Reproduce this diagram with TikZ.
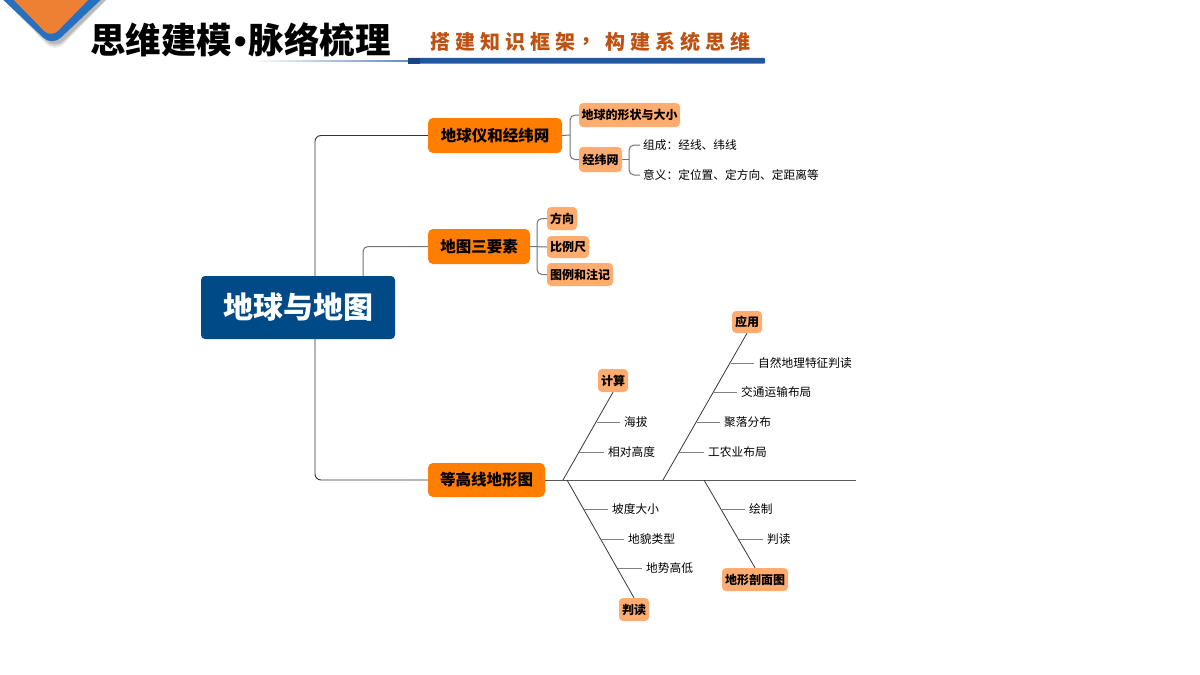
\documentclass[tikz,border=0pt]{standalone}
\usepackage{fontspec}
\setmainfont{Noto Sans CJK SC}
\newfontfamily\latinb{Liberation Sans}
\usetikzlibrary{calc}
\definecolor{lvone}{RGB}{255,125,0}
\definecolor{lvtwo}{RGB}{255,172,112}
\definecolor{central}{RGB}{0,74,135}
\definecolor{chevorange}{RGB}{237,128,50}
\definecolor{chevblue}{RGB}{38,112,192}
\definecolor{barblue}{RGB}{30,88,160}
\definecolor{subcol}{RGB}{190,82,18}
\pgfdeclarelayer{back}
\pgfdeclarelayer{lines}
\pgfsetlayers{back,lines,main}
\tikzset{
  lone/.style={fill=lvone, rounded corners=5pt, inner sep=0pt, font=\fontsize{15.5}{18}\selectfont\bfseries},
  ltwo/.style={fill=lvtwo, rounded corners=4pt, inner sep=0pt, font=\fontsize{12}{14}\selectfont\bfseries},
  leaf/.style={inner sep=0pt, anchor=west, font=\fontsize{11.7}{14}\selectfont},
  conn/.style={draw=black!80, line width=0.9pt, rounded corners=6pt},
  gconn/.style={draw=black!55, line width=1pt, rounded corners=5pt},
  bone/.style={draw=black!78, line width=0.8pt},
  spine/.style={draw=black!65, line width=1pt},
  tickline/.style={draw=black!50, line width=1pt},
  subch/.style={inner sep=0pt, text=subcol, font=\fontsize{20}{23}\selectfont\bfseries}
}
\begin{document}
\begin{tikzpicture}[x=1pt,y=-1pt]
\path[use as bounding box] (0,0) rectangle (1200,675);
\begin{pgfonlayer}{back}
\fill[white] (0,0) rectangle (1200,675);
\end{pgfonlayer}
\clip (0,0) rectangle (1200,675);

% top-left chevron with shadow
\foreach \o/\a in {8/0.08,6/0.1,4/0.12}{
  \fill[black, opacity=\a, rounded corners=12pt] (-6,-10) -- (55,45+\o) -- (116,-10) -- cycle;
}
\fill[chevblue, rounded corners=12pt] (-5,-8) -- (52,46) -- (109,-8) -- cycle;
\fill[chevorange, rounded corners=10pt] (6,-8) -- (51,38) -- (96,-8) -- cycle;

% title
\node[anchor=west, inner sep=0pt, font=\fontsize{35.5}{40}\selectfont\bfseries] (title) at (90,40) {思维建模{\latinb\bfseries\kern2pt•\kern2pt}脉络梳理};

% subtitle
\foreach \ch [count=\i from 0] in {搭,建,知,识,框,架,，,构,建,系,统,思,维}{
  \node[subch] (s\i) at (440.5+25*\i,42) {\ch};
}
\shade[left color=white, right color=barblue!70] (250,60.3) rectangle (410,61.8);
\fill[barblue, rounded corners=1pt] (408,57.8) rectangle (765,63.5);
\fill[barblue!80!black] (408,57.8) rectangle (420,63.5);

% coordinates
\coordinate (jmain) at (315,300);
\coordinate (jsec) at (363,300);
\coordinate (ja) at (570,135);
\coordinate (jb) at (537,246.5);
\coordinate (jg) at (629,159.5);
\coordinate (spineend) at (856,480);
\coordinate (f1) at (563,480);
\coordinate (f2) at (663,480);
\coordinate (f3) at (567,480);
\coordinate (f4) at (704,480);

% main nodes
\node[fill=central, rounded corners=4pt, minimum width=194pt, minimum height=63pt, inner sep=0pt, text=white, font=\fontsize{30}{34}\selectfont\bfseries] (c) at (298,307.5) {地球与地图};
\node[lone, minimum width=134pt, minimum height=35pt] (n1) at (495,135.5) {地球仪和经纬网};
\node[lone, minimum width=102pt, minimum height=35pt] (n2) at (479,246.5) {地图三要素};
\node[lone, minimum width=117pt, minimum height=34pt] (n3) at (486.5,480) {等高线地形图};

\node[ltwo, minimum width=101pt, minimum height=24pt] (a1) at (629.5,115) {地球的形状与大小};
\node[ltwo, minimum width=43pt, minimum height=25pt] (a2) at (600.5,159.5) {经纬网};
\node[leaf] (g1) at (643,145) {组成：经线、纬线};
\node[leaf] (g2) at (643,175) {意义：定位置、定方向、定距离等};

\node[ltwo, minimum width=30pt, minimum height=23pt] (b1) at (562,218.5) {方向};
\node[ltwo, minimum width=42pt, minimum height=22pt] (b2) at (568,247) {比例尺};
\node[ltwo, minimum width=66pt, minimum height=23pt] (b3) at (580,274.5) {图例和注记};

\node[ltwo, minimum width=30pt, minimum height=23pt] (calc) at (613,380.5) {计算};
\node[ltwo, minimum width=30pt, minimum height=22pt] (app) at (747,322) {应用};
\node[ltwo, minimum width=30pt, minimum height=23pt] (read) at (634,609.5) {判读};
\node[ltwo, minimum width=66pt, minimum height=23pt] (prof) at (755,579.5) {地形剖面图};

\node[leaf] (t1) at (624,422) {海拔};
\node[leaf] (t2) at (608,452) {相对高度};
\node[leaf] (t3) at (758,363) {自然地理特征判读};
\node[leaf] (t4) at (741,392) {交通运输布局};
\node[leaf] (t5) at (724,422) {聚落分布};
\node[leaf] (t6) at (708,452) {工农业布局};
\node[leaf] (t7) at (612,509) {坡度大小};
\node[leaf] (t8) at (628,539) {地貌类型};
\node[leaf] (t9) at (646,568) {地势高低};
\node[leaf] (t10) at (749,509) {绘制};
\node[leaf] (t11) at (767,539) {判读};

% tick start points on the bones
\coordinate (k1) at (597,422);
\coordinate (k2) at (579,452);
\coordinate (k3) at (731,363);
\coordinate (k4) at (714,392);
\coordinate (k5) at (697,422);
\coordinate (k6) at (679,452);
\coordinate (k7) at (584,509);
\coordinate (k8) at (601,539);
\coordinate (k9) at (618,568);
\coordinate (k10) at (721,509);
\coordinate (k11) at (739,539);

% connectors (behind nodes)
\begin{pgfonlayer}{lines}
\draw[conn] (n1.west) -| (jmain) |- (n3.west);
\draw[gconn] (c.north -| jsec) |- (n2.west);
\draw[gconn] (n1.east) -- (ja);
\draw[gconn] (a1.west) -| (ja) |- (a2.west);
\draw[gconn] (a2.east) -- (jg);
\draw[gconn] ([xshift=-3pt]g1.west) -| (jg) |- ([xshift=-3pt]g2.west);
\draw[gconn] (n2.east) -- (b2.west);
\draw[gconn] (b1.west) -| (jb) |- (b3.west);
\draw[spine] (n3.east) -- (spineend);
\draw[bone] (f1) -- (calc.south);
\draw[bone] (f2) -- (app.south);
\draw[bone] (f3) -- (read.north);
\draw[bone] (f4) -- (prof.north);
\foreach \k in {1,...,11}{
  \draw[tickline] (k\k) -- ([xshift=-4pt]t\k.west);
}
\end{pgfonlayer}
\end{tikzpicture}
\end{document}
